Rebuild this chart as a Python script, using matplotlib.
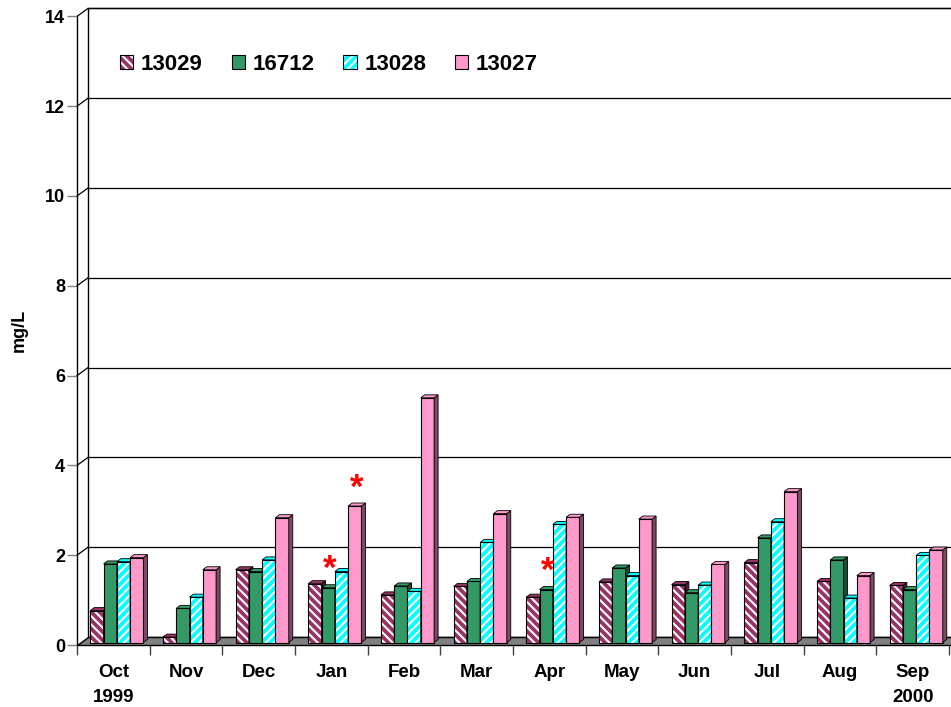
import numpy as np
import matplotlib
matplotlib.use("Agg")
import matplotlib.pyplot as plt
from matplotlib.patches import Polygon, Patch, Rectangle

plt.rcParams["font.family"] = ["Liberation Sans", "DejaVu Sans"]
plt.rcParams["font.weight"] = "bold"
plt.rcParams["axes.labelweight"] = "bold"
plt.rcParams["hatch.linewidth"] = 1.5

# data (mg/L)
months = ["Oct\n1999", "Nov", "Dec", "Jan", "Feb", "Mar", "Apr", "May",
          "Jun", "Jul", "Aug", "Sep\n2000"]
series = ["13029", "16712", "13028", "13027"]
s13029 = [0.71, 0.12, 1.62, 1.31, 1.06, 1.25, 1.01, 1.35, 1.29, 1.78, 1.36, 1.27]
s16712 = [1.75, 0.76, 1.58, 1.22, 1.26, 1.36, 1.18, 1.66, 1.11, 2.33, 1.84, 1.18]
s13028 = [1.80, 1.01, 1.84, 1.58, 1.14, 2.23, 2.63, 1.49, 1.28, 2.69, 0.99, 1.94]
s13027 = [1.89, 1.62, 2.78, 3.04, 5.45, 2.87, 2.79, 2.75, 1.74, 3.36, 1.49, 2.06]
yticks = [0, 2, 4, 6, 8, 10, 12, 14]
# flagged points (month, station)
stars = [("Jan", "16712"), ("Jan", "13027"), ("Apr", "16712")]

values = [s13029, s16712, s13028, s13027]
faces = ["#993366", "#339966", "#00ffff", "#ff99cc"]
sides = ["#4d1a33", "#1a4d33", "#008080", "#7a4a64"]
hatches = ["\\\\\\\\", None, "////", None]

W, H = 951, 707
fig = plt.figure(figsize=(W / 100, H / 100), dpi=100)
ax = fig.add_axes([77 / W, 62 / H, 872 / W, 628.6 / H])
ax.set_xlim(-0.5, 11.5)
ax.set_ylim(0, 14)
ax.patch.set_visible(False)
for s in ["top", "right", "bottom"]:
    ax.spines[s].set_visible(False)
ax.spines["left"].set_linewidth(1)

# pixel -> data conversion for the fake 3D depth
px_x = 12 / 872
px_y = 14 / 628.6
ddx, ddy = 11 * px_x, 8 * px_y        # full depth front -> back wall
bar_dx, bar_dy = 3.5 * px_x, 2.5 * px_y  # bar front plane
bdx, bdy = 4 * px_x, 3 * px_y          # bar thickness

# back wall, floor, side wall
ax.add_patch(Rectangle((-0.5 + ddx, ddy), 13, 14, fc="white", ec="black",
                       lw=1, clip_on=False, zorder=0.5))
ax.add_patch(Polygon([(-0.5, 0), (12.5, 0), (12.5, ddy), (-0.5 + ddx, ddy)],
                     fc="#808080", ec="black", lw=1, clip_on=False, zorder=1))
for v in yticks[1:]:
    ax.plot([-0.5 + ddx, 12.5], [v + ddy] * 2, color="black", lw=0.9,
            clip_on=False, zorder=0.8)
    ax.plot([-0.5, -0.5 + ddx], [v, v + ddy], color="black", lw=0.9,
            clip_on=False, zorder=0.8)

w = 0.183
xc = np.arange(len(months))
for j, vals in enumerate(values):
    x = xc + (j - 1.5) * w + bar_dx
    z = 3 + j
    if hatches[j]:
        ax.bar(x, vals, w, bottom=bar_dy, color=faces[j], edgecolor="white",
               hatch=hatches[j], lw=0, zorder=z)
        ax.bar(x, vals, w, bottom=bar_dy, fill=False, edgecolor="black",
               lw=0.8, zorder=z + 0.5)
    else:
        ax.bar(x, vals, w, bottom=bar_dy, color=faces[j], edgecolor="black",
               lw=0.8, zorder=z)
    for xi, v in zip(x, vals):
        xr = xi + w / 2
        yt = bar_dy + v
        ax.add_patch(Polygon([(xr, bar_dy), (xr + bdx, bar_dy + bdy),
                              (xr + bdx, yt + bdy), (xr, yt)],
                             fc=sides[j], ec="black", lw=0.6, zorder=z + 0.2))
        ax.add_patch(Polygon([(xr - w, yt), (xr - w + bdx, yt + bdy),
                              (xr + bdx, yt + bdy), (xr, yt)],
                             fc=faces[j], ec="black", lw=0.6, zorder=z + 0.2))

for m, s in stars:
    i = [t.split("\n")[0] for t in months].index(m)
    j = series.index(s)
    x = i + (j - 1.5) * w + bar_dx + bdx / 2
    ax.annotate("*", (x, bar_dy + values[j][i]), xytext=(0, 1),
                textcoords="offset points", ha="center", va="bottom",
                color="red", fontsize=25, fontweight="bold", zorder=10)

ax.set_yticks(yticks)
ax.tick_params(axis="y", length=7.2, width=1, color="#808080", pad=1.5,
               labelsize=13)
ax.set_xticks(xc)
ax.set_xticklabels(months, linespacing=1.55)
ax.set_xticks(np.arange(-0.5, 12, 1), minor=True)
ax.tick_params(axis="x", which="major", length=0, pad=14, labelsize=13.5)
ax.tick_params(axis="x", which="minor", length=7.2, width=1, color="#404040")
ax.set_ylabel("mg/L", fontsize=13, fontweight="bold", labelpad=12)

handles = []
for j in range(4):
    if hatches[j]:
        handles.append((Patch(fc=faces[j], ec="white", hatch=hatches[j], lw=0),
                        Patch(fill=False, ec="black", lw=0.8)))
    else:
        handles.append(Patch(fc=faces[j], ec="black", lw=0.8))
ax.legend(handles, series, loc="center left",
          bbox_to_anchor=(120 / W, 1 - 64 / H), bbox_transform=fig.transFigure,
          ncol=4, frameon=False, fontsize=16, handlelength=0.6,
          handleheight=0.6, handletextpad=0.34, columnspacing=1.3,
          borderpad=0, borderaxespad=0)

fig.savefig("out.png", dpi=100)
